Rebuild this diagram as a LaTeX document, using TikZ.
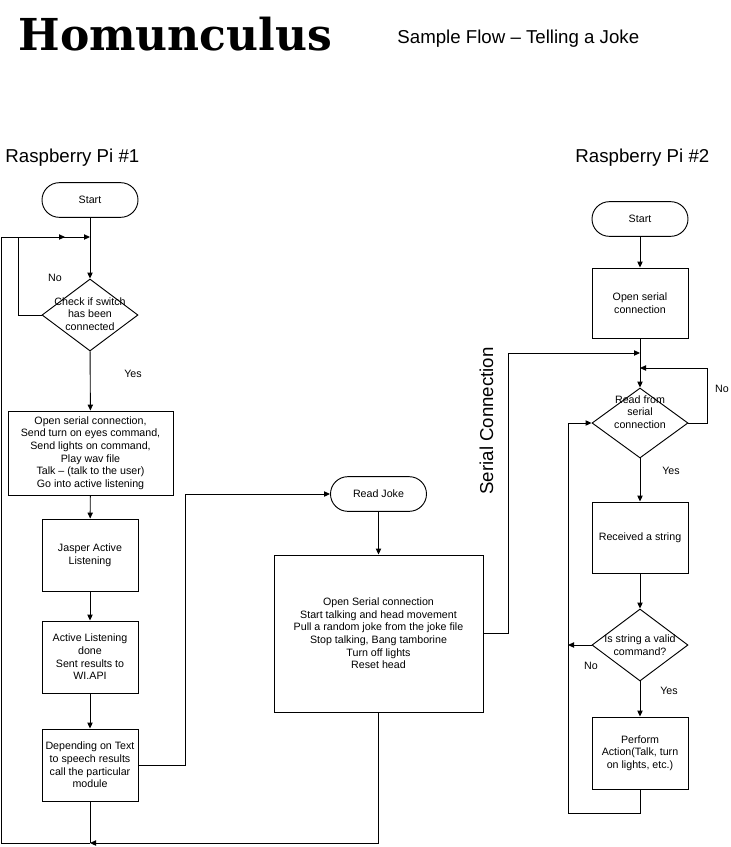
\documentclass[tikz,border=0pt]{standalone}
\usepackage{fontspec}
\setmainfont{Liberation Sans}
\newfontfamily\headfont{DejaVu Serif}
\usetikzlibrary{shapes.geometric,arrows.meta}

\begin{document}
\begin{tikzpicture}[x=0.75pt,y=-0.75pt,line width=0.7pt,
  >={Triangle[length=4.5pt,width=4pt]}]
\tikzstyle{every node}+=[inner sep=0pt,font=\fontsize{8}{9.5}\selectfont]
\tikzstyle{term}=[draw,rectangle,rounded corners=13pt,minimum width=72pt,minimum height=26pt]
\tikzstyle{proc}=[draw,rectangle,minimum width=72pt,minimum height=54pt,align=center]
\tikzstyle{dec}=[draw,diamond,minimum width=72pt,minimum height=54pt]
\tikzstyle{head}=[anchor=base west,font=\fontsize{14}{16}\selectfont]
\useasboundingbox (0,0) rectangle (731,847);
% headings
\node [anchor=base west,font=\headfont\bfseries\fontsize{33}{36}\selectfont] (title) at (18,50) {Homunculus};
\node [head] (subtitle) at (397,43) {Sample Flow – Telling a Joke};
\node [head] (pi1) at (5,162) {Raspberry Pi \#1};
\node [head] (pi2) at (575,162) {Raspberry Pi \#2};
\node [head,rotate=90] (serial) at (493,495) {Serial Connection};
% Raspberry Pi #1
\node [term] (lstart) at (90,200) {Start};
\node [dec] (lcheck) at (90,315) {};
\node [align=center] (lchecktxt) at (90,314) {Check if switch\\has been\\connected};
\node [proc,minimum width=123.75pt,minimum height=63pt] (lopen) at (90.5,453) {Open serial connection,\\Send turn on eyes command,\\Send lights on command,\\Play wav file\\Talk – (talk to the user)\\Go into active listening};
\node [proc] (ljasper) at (90,555) {Jasper Active\\Listening};
\node [proc] (ldone) at (90,657) {Active Listening\\done\\Sent results to\\WI.API};
\node [proc] (lact) at (90,765) {Depending on Text\\to speech results\\call the particular\\module};
\node (lno) at (55,278) {No};
\node (lyes) at (133,374) {Yes};
% joke module
\node [term] (read) at (378.5,494) {Read Joke};
\node [proc,minimum width=156.75pt,minimum height=117.75pt] (joke) at (378.5,633.5) {Open Serial connection\\Start talking and head movement\\Pull a random joke from the joke file\\Stop talking, Bang tamborine\\Turn off lights\\Reset head};
% Raspberry Pi #2
\node [term] (rstart) at (640,219) {Start};
\node [proc,minimum height=52.5pt] (ropen) at (640,303) {Open serial\\connection};
\node [dec,minimum height=52.5pt] (rread) at (640,423) {};
\node [align=center] (rreadtxt) at (640,412) {Read from\\serial\\connection};
\node [proc,minimum height=53.25pt] (rstr) at (640,537.5) {Received a string};
\node [dec] (rvalid) at (640,645) {};
\node [align=center] (rvalidtxt) at (640,645) {Is string a valid\\command?};
\node [proc] (ract) at (640,753) {Perform\\Action(Talk, turn\\on lights, etc.)};
\node (rno) at (722,389) {No};
\node (ryes) at (671,471) {Yes};
\node (rno2) at (591,666) {No};
\node (ryes2) at (669,691) {Yes};
% bends
\coordinate (lmerge) at (90,237);
\coordinate (lnoc) at (18,237);
\coordinate (lin) at (65,237);
\coordinate (lcorner) at (1.5,237);
\coordinate (lbot) at (90,843);
\coordinate (ljoin) at (185,494);
\coordinate (sline) at (508,353);
\coordinate (rin) at (640,353);
\coordinate (rnoc) at (707,368);
\coordinate (rnoin) at (640,368);
\coordinate (rback) at (568,645);
\coordinate (rbot) at (568,813);
% connectors
\draw [->] (lstart) -- (lcheck);
\draw [->] (lcheck.west) -| (lnoc) -- (lmerge);
\draw [->] (lcheck) -- (lopen);
\draw [->] (lopen) -- (ljasper);
\draw [->] (ljasper) -- (ldone);
\draw [->] (ldone) -- (lact);
\draw (lact) -- (lbot);
\draw [->] (lbot) -| (lcorner) -- (lin);
\draw [->] (lact.east) -| (ljoin) -- (read.west);
\draw [->] (read) -- (joke);
\draw [->] (joke.south) |- (lbot);
\draw [->] (joke.east) -| (sline) -- (rin);
\draw [->] (rstart) -- (ropen);
\draw [->] (ropen) -- (rread);
\draw [->] (rread.east) -| (rnoc) -- (rnoin);
\draw [->] (rread) -- (rstr);
\draw [->] (rstr) -- (rvalid);
\draw [->] (rvalid.west) -- (rback);
\draw [->] (rvalid) -- (ract);
\draw [->] (ract.south) |- (rbot) |- (rread.west);
\end{tikzpicture}
\end{document}
